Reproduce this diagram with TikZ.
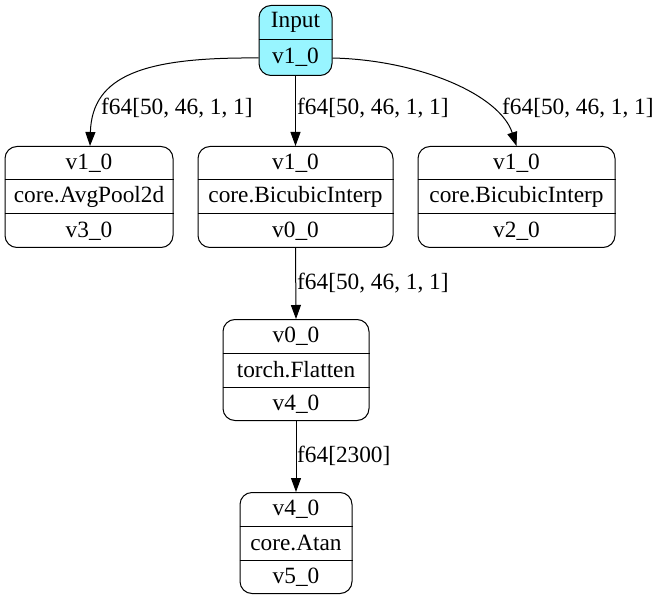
\documentclass[tikz,border=0pt]{standalone}
\usepackage{fontspec}
\setmainfont{Liberation Serif}
\usetikzlibrary{arrows.meta,calc}
\definecolor{inputcol}{HTML}{98F5FF}
\tikzset{
  rec/.style={draw, line width=1pt, rounded corners=12pt, inner sep=0pt, minimum height=101pt},
  divline/.style={line width=1pt},
  txt/.style={inner sep=0pt, font=\fontsize{23.3}{26}\selectfont},
  lbl/.style={inner sep=0pt, anchor=west, font=\fontsize{23.3}{26}\selectfont},
  edge/.style={line width=1pt, -{Triangle[length=14pt,width=10pt]}},
}
\newcommand\mkrec[7]{%
  \node[rec, minimum width=#4pt, anchor=north] (#1) at (#2,#3) {};
  \draw[divline] ($(#1.north west)+(0,34)$) -- ($(#1.north east)+(0,34)$);
  \draw[divline] ($(#1.north west)+(0,68)$) -- ($(#1.north east)+(0,68)$);
  \node[txt] (#1a) at ($(#1.north)+(0,17)$) {#5};
  \node[txt] (#1b) at ($(#1.north)+(0,51)$) {#6};
  \node[txt] (#1c) at ($(#1.north)+(0,85)$) {#7};
}
\begin{document}
\begin{tikzpicture}[x=1pt,y=-1pt]
\useasboundingbox (0,0) rectangle (660,601);
% Input node
\node[rec, fill=inputcol, minimum width=73pt, minimum height=70pt, anchor=north] (In) at (295.5,5) {};
\draw[divline] ($(In.north west)+(0,35)$) -- ($(In.north east)+(0,35)$);
\node[txt] (Ina) at ($(In.north)+(0,17.5)$) {Input};
\node[txt] (Inb) at ($(In.north)+(0,52.5)$) {v1\_0};
\coordinate (InL) at ($(In.west)+(0,17.5)$);
\coordinate (InR) at ($(In.east)+(0,17.5)$);
% other nodes
\mkrec{A}{89}{146}{168}{v1\_0}{core.AvgPool2d}{v3\_0}
\mkrec{B}{295.5}{146}{195}{v1\_0}{core.BicubicInterp}{v0\_0}
\mkrec{C}{516.5}{146}{197}{v1\_0}{core.BicubicInterp}{v2\_0}
\mkrec{D}{296}{319}{146}{v0\_0}{torch.Flatten}{v4\_0}
\mkrec{E}{296}{492}{112}{v4\_0}{core.Atan}{v5\_0}
% edges
\draw[edge] (InL) .. controls (145,57) and (92,75) .. ($(A.north)+(1,0)$);
\draw[edge] (In.south) -- (B.north);
\draw[edge] (InR) .. controls (420,60) and (500,95) .. ($(C.north)+(0,0)$);
\draw[edge] (B.south) -- (D.north);
\draw[edge] (D.south) -- (E.north);
% labels
\node[lbl] (l1) at (101,108) {f64[50, 46, 1, 1]};
\node[lbl] (l2) at (297,108) {f64[50, 46, 1, 1]};
\node[lbl] (l3) at (502,108) {f64[50, 46, 1, 1]};
\node[lbl] (l4) at (297,283) {f64[50, 46, 1, 1]};
\node[lbl] (l5) at (297,456) {f64[2300]};
\end{tikzpicture}
\end{document}
